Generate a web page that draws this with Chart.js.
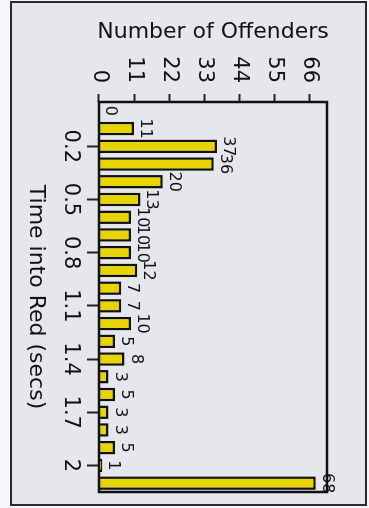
<!DOCTYPE html>
<html><head><meta charset="utf-8">
<script src="https://cdn.jsdelivr.net/npm/chart.js@4.4.1/dist/chart.umd.min.js"></script>
<style>
html,body{margin:0;padding:0;background:#f7f7f9;width:369px;height:508px;overflow:hidden;}
#wrap{position:absolute;left:0;top:0;width:508px;height:369px;transform-origin:0 0;transform:translate(369px,0) rotate(90deg);}
canvas{display:block;}
</style></head><body>
<div id="wrap"><canvas id="c" width="508" height="369"></canvas></div>
<script>
// Data (chart drawn as a vertical bar chart, then the whole figure is turned 90° clockwise like the reference)
const categories = ['0','0.1','0.2','0.3','0.4','0.5','0.6','0.7','0.8','0.9','1','1.1','1.2','1.3','1.4','1.5','1.6','1.7','1.8','1.9','2','2.1'];
const offenders  = [0, 11, 37, 36, 20, 13, 10, 10, 10, 12, 7, 7, 10, 5, 8, 3, 5, 3, 3, 5, 1, 68];
const timeTickLabels = ['0.2','0.5','0.8','1.1','1.4','1.7','2'];
const countTicks = [0, 11, 22, 33, 44, 55, 66];
const countTitle = 'Number of Offenders';
const timeTitle = 'Time into Red (secs)';

const FONT = 'DejaVu Sans';

const framePlugin = {
  id: 'frame',
  beforeDraw(chart) {
    const {ctx, width, height} = chart;
    ctx.save();
    ctx.fillStyle = '#f7f7f9';
    ctx.fillRect(0, 0, width, height);
    ctx.fillStyle = '#e6e7ec';
    ctx.fillRect(2, 3, width - 5, height - 14);
    ctx.strokeStyle = '#2a2a2a';
    ctx.lineWidth = 2;
    ctx.strokeRect(2, 3, width - 5, height - 14);
    ctx.restore();
  },
  afterDatasetsDraw(chart) {
    const {ctx, chartArea: a} = chart;
    ctx.save();
    ctx.strokeStyle = '#111';
    ctx.lineWidth = 2.5;
    ctx.strokeRect(a.left, a.top, a.right - a.left, a.bottom - a.top);
    // value labels
    const meta = chart.getDatasetMeta(0);
    const vals = chart.data.datasets[0].data;
    ctx.font = '16px "' + FONT + '"';
    ctx.fillStyle = '#111';
    ctx.textAlign = 'center';
    ctx.textBaseline = 'alphabetic';
    meta.data.forEach((bar, i) => {
      ctx.fillText(String(vals[i]), bar.x, bar.y - 7);
    });
    ctx.restore();
  }
};

new Chart(document.getElementById('c'), {
  type: 'bar',
  data: {
    labels: categories,
    datasets: [{
      data: offenders,
      backgroundColor: '#e8d400',
      borderColor: '#111',
      borderWidth: 2.5,
      categoryPercentage: 1,
      barPercentage: 0.76
    }]
  },
  options: {
    responsive: false,
    animation: false,
    layout: {padding: {top: 42, right: 16, left: 0, bottom: 0}},
    plugins: {legend: {display: false}, tooltip: {enabled: false}},
    scales: {
      x: {
        type: 'category',
        offset: true,
        grid: {drawOnChartArea: false, drawTicks: true, tickLength: 12, tickWidth: 2, tickColor: '#222', offset: false},
        border: {display: false},
        ticks: {
          autoSkip: false, maxRotation: 0, minRotation: 0, padding: 4, color: '#111',
          font: {family: FONT, size: 21},
          callback(v) { return categories[v]; }
        },
        title: {display: true, text: timeTitle, color: '#111', font: {family: FONT, size: 22}, padding: {top: 0, bottom: 23}},
        afterBuildTicks(s) { s.ticks = s.ticks.filter(t => timeTickLabels.includes(categories[t.value])); },
        afterFit(s) { s.height = 99; }
      },
      y: {
        min: 0, max: 71.5,
        grid: {drawOnChartArea: false, drawTicks: true, tickLength: 8, tickWidth: 2, tickColor: '#222'},
        border: {display: false},
        ticks: {padding: 11, color: '#111', font: {family: FONT, size: 21}},
        title: {display: true, text: countTitle, color: '#111', font: {family: FONT, size: 22}, padding: {top: 19, bottom: 0}},
        afterBuildTicks(s) { s.ticks = countTicks.map(v => ({value: v})); },
        afterFit(s) { s.width = 102; }
      }
    }
  },
  plugins: [framePlugin]
});
</script>
</body></html>
